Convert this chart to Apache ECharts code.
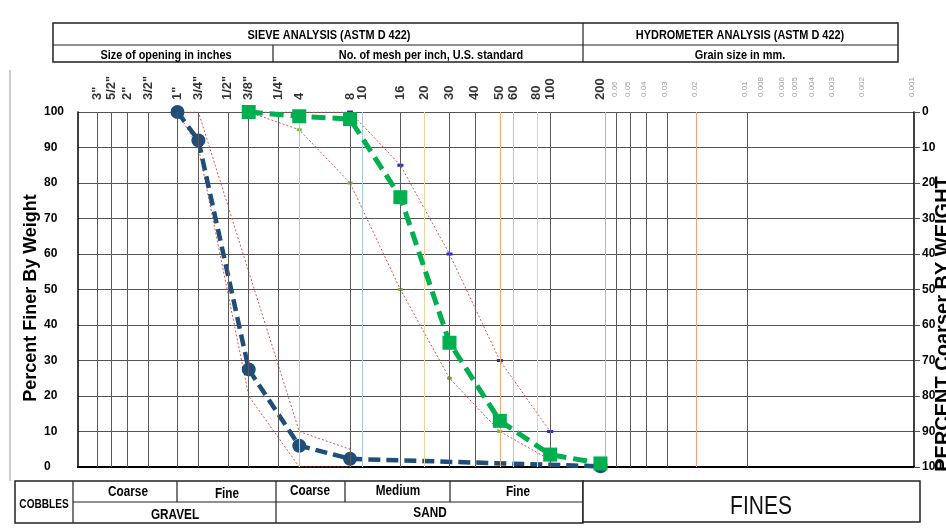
<!DOCTYPE html>
<html>
<head>
<meta charset="utf-8">
<script src="https://cdn.jsdelivr.net/npm/echarts@6/dist/echarts.min.js"></script>
<style>
html, body { margin: 0; padding: 0; background: #fff; }
#chart { width: 946px; height: 528px; }
</style>
</head>
<body>
<div id="chart"></div>
<script>
// sieve openings (mm) and their labels along the top
const sieveLabels = ['3"', '5/2"', '2"', '3/2"', '1"', '3/4"', '1/2"', '3/8"', '1/4"', '4', '8', '10', '16', '20', '30', '40', '50', '60', '80', '100', '200']
const sieveSizes = [76.2, 63.5, 50.8, 38.1, 25.4, 19.05, 12.7, 9.525, 6.35, 4.75, 2.36, 2.0, 1.18, 0.85, 0.6, 0.425, 0.3, 0.25, 0.18, 0.15, 0.075]
const hydroLabels = ['0.06', '0.05', '0.04', '0.03', '0.02', '0.01', '0.008', '0.006', '0.005', '0.004', '0.003', '0.002', '0.001']
const hydroSizes = [0.06, 0.05, 0.04, 0.03, 0.02, 0.01, 0.008, 0.006, 0.005, 0.004, 0.003, 0.002, 0.001]

// coarse sample (blue circles)
const coarseSizes = [25.4, 19.05, 9.525, 4.75, 2.36, 0.075]
const coarsePassing = [100, 92, 27.5, 6, 2.3, 0.2]

// fine sample (green squares)
const fineSizes = [9.525, 4.75, 2.36, 1.18, 0.6, 0.3, 0.15, 0.075]
const finePassing = [100, 98.8, 98, 76, 35, 13, 3.5, 1]

// specification limits
const coarseSpecSizes = [25.4, 19.05, 9.525, 4.75, 2.36]
const coarseSpecUpper = [100, 100, 55, 10, 5]
const coarseSpecLower = [100, 90, 20, 0, 0]
const fineSpecSizes = [9.525, 4.75, 2.36, 1.18, 0.6, 0.3, 0.15]
const fineSpecUpper = [100, 100, 100, 85, 60, 30, 10]
const fineSpecLower = [100, 95, 80, 50, 25, 10, 2]

const tint = { '4': '#a9cbe8', '10': '#a9cbe8', '20': '#e6d6a0', '50': '#f0b070', '60': '#a9cbe8', '80': '#e6d6a0', '200': '#f0a080' }
const font = '"Liberation Sans", Arial, sans-serif'
const pair = (xs, ys) => xs.map((x, i) => [x, ys[i]])

// condensed bold text for the tables (no narrow font installed, so squeeze it)
function label(x, y, text, size, opts) {
  opts = opts || {}
  return {
    type: 'text', x: x, y: y, scaleX: opts.scaleX || 0.84, rotation: opts.rotation || 0,
    style: {
      text: text, font: (opts.weight || 'bold') + ' ' + size + 'px ' + font,
      fill: opts.color || '#000', align: 'center', verticalAlign: 'middle',
    },
  }
}
function seg(x1, y1, x2, y2) {
  return { type: 'line', shape: { x1: x1, y1: y1, x2: x2, y2: y2 }, style: { stroke: '#222', lineWidth: 1.2 } }
}

const chart = echarts.init(document.getElementById('chart'))

const verticals = sieveSizes.map((s, i) => ({
  xAxis: s,
  lineStyle: { color: tint[sieveLabels[i]] || '#5a5a5a', width: 1, type: 'solid' },
})).concat(hydroSizes.slice(0, -1).map(s => ({
  xAxis: s,
  lineStyle: { color: s === 0.02 ? '#f0a080' : '#5a5a5a', width: 1, type: 'solid' },
})))

const specLine = { color: '#e0504a', width: 1, type: [2, 2] }

chart.setOption({
  animation: false,
  grid: { left: 78, right: 32, top: 112, bottom: 61 },
  xAxis: [
    {
      type: 'log', logBase: 10, min: 0.001, max: 100, inverse: true,
      axisLine: { show: true, onZero: false, lineStyle: { color: '#000', width: 2 } },
      axisTick: { show: false }, axisLabel: { show: false }, splitLine: { show: false },
    },
    {
      type: 'log', logBase: 10, min: 0.001, max: 100, inverse: true, position: 'top',
      axisLine: { show: true, lineStyle: { color: '#000', width: 1.5 } },
      axisTick: { show: false }, axisLabel: { show: false }, splitLine: { show: false },
    },
  ],
  yAxis: [
    {
      type: 'value', min: 0, max: 100, interval: 10,
      axisLine: { show: true, lineStyle: { color: '#000', width: 1.5 } },
      axisTick: { show: false },
      axisLabel: { align: 'left', margin: 34, fontFamily: font, fontWeight: 'bold', fontSize: 12, color: '#000' },
      splitLine: { show: true, lineStyle: { color: '#555', width: 1 } },
    },
    {
      type: 'value', min: 0, max: 100, interval: 10, inverse: true, position: 'right',
      axisLine: { show: true, lineStyle: { color: '#000', width: 1.5 } },
      axisTick: { show: true, inside: false, length: 6, lineStyle: { color: '#555' } },
      axisLabel: { align: 'left', margin: 8, fontFamily: font, fontWeight: 'bold', fontSize: 12, color: '#000' },
      splitLine: { show: false },
    },
  ],
  series: [
    {
      type: 'line', data: [], silent: true,
      markLine: { symbol: 'none', silent: true, label: { show: false }, data: verticals },
    },
    {
      type: 'scatter', symbolSize: 0, clip: false, silent: true, z: 1,
      data: sieveSizes.map((s, i) => ({ value: [s, 100], label: { formatter: sieveLabels[i] } })),
      label: {
        show: true, rotate: 90, align: 'left', verticalAlign: 'middle', position: [0, -12],
        fontFamily: font, fontWeight: 'bold', fontSize: 13, color: '#000',
      },
    },
    {
      type: 'scatter', symbolSize: 0, clip: false, silent: true, z: 1,
      data: hydroSizes.map((s, i) => ({ value: [s, 100], label: { formatter: hydroLabels[i] } })),
      label: {
        show: true, rotate: 90, align: 'left', verticalAlign: 'middle', position: [-2, -15],
        fontFamily: font, fontSize: 8, color: '#888',
      },
    },
    { type: 'line', data: pair(coarseSpecSizes, coarseSpecUpper), symbol: 'none', lineStyle: specLine, z: 3 },
    { type: 'line', data: pair(coarseSpecSizes, coarseSpecLower), symbol: 'none', lineStyle: specLine, z: 3 },
    {
      type: 'line', data: pair(fineSpecSizes, fineSpecUpper), symbol: 'rect', symbolSize: [6, 3],
      itemStyle: { color: '#2a2ad8' }, lineStyle: specLine, z: 3,
    },
    {
      type: 'line', data: pair(fineSpecSizes, fineSpecLower), symbol: 'rect', symbolSize: [5, 3],
      itemStyle: { color: '#70c040' }, lineStyle: specLine, z: 3,
    },
    {
      type: 'line', data: pair(coarseSizes, coarsePassing), symbol: 'circle', symbolSize: 14,
      itemStyle: { color: '#1f4e79' }, lineStyle: { color: '#1f4e79', width: 4.5, type: [12, 6] }, z: 4,
    },
    {
      type: 'line', data: pair(fineSizes, finePassing), symbol: 'rect', symbolSize: 14,
      itemStyle: { color: '#00b050' }, lineStyle: { color: '#00b050', width: 5, type: [14, 7] }, z: 5,
    },
  ],
  graphic: [
    // outer left frame line
    { type: 'line', shape: { x1: 10, y1: 70, x2: 10, y2: 481 }, style: { stroke: '#999', lineWidth: 1 } },
    // header table
    { type: 'rect', shape: { x: 53, y: 23, width: 845, height: 39 }, style: { fill: 'none', stroke: '#222', lineWidth: 1.5 } },
    seg(53, 45, 898, 45),
    seg(583, 23, 583, 62),
    seg(273, 45, 273, 62),
    label(329, 35, 'SIEVE ANALYSIS (ASTM D 422)', 13),
    label(166, 55, 'Size of opening in inches', 13),
    label(431, 55, 'No. of mesh per inch, U.S. standard', 13),
    label(740, 35, 'HYDROMETER ANALYSIS (ASTM D 422)', 13),
    label(740, 55, 'Grain size in mm.', 13),
    // axis titles (the right one is partly cut by the page edge)
    label(31, 298, 'Percent Finer By Weight', 18, { scaleX: 1, rotation: Math.PI / 2 }),
    label(943, 324, 'PERCENT Coarser BY WEIGHT', 20, { scaleX: 1, rotation: Math.PI / 2 }),
    // bottom classification table
    { type: 'rect', shape: { x: 15, y: 481, width: 568, height: 42 }, style: { fill: '#fff', stroke: '#222', lineWidth: 1.5 } },
    seg(73, 481, 73, 523),
    seg(73, 502, 583, 502),
    seg(177, 481, 177, 502),
    seg(276, 481, 276, 523),
    seg(345, 481, 345, 502),
    seg(450, 481, 450, 502),
    { type: 'rect', shape: { x: 583, y: 481, width: 337, height: 41 }, style: { fill: '#fff', stroke: '#222', lineWidth: 1.5 } },
    label(44, 505, 'COBBLES', 12),
    label(128, 492, 'Coarse', 14),
    label(227, 494, 'Fine', 14),
    label(310, 491, 'Coarse', 14),
    label(398, 491, 'Medium', 14),
    label(518, 492, 'Fine', 14),
    label(175, 515, 'GRAVEL', 14),
    label(430, 513, 'SAND', 14),
    label(761, 507, 'FINES', 25, { weight: 'normal', color: '#111' }),
  ],
})
</script>
</body>
</html>
